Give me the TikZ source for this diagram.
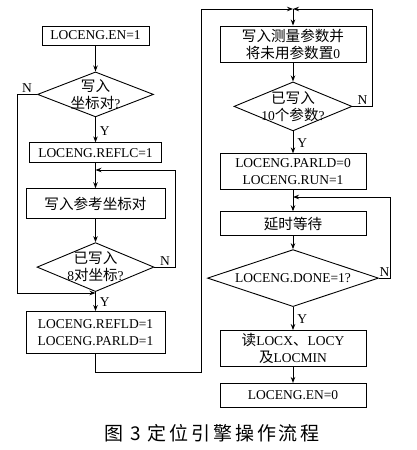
\documentclass[tikz,border=0pt]{standalone}
\usepackage{fontspec}
\setmainfont{Liberation Serif}
\newfontfamily\zhfont[Scale=1.08]{Noto Sans CJK SC}
\newfontfamily\capfont[LetterSpace=15]{Noto Sans CJK SC}
\newcommand{\zh}[1]{{\zhfont #1}}
\usetikzlibrary{positioning,shapes.geometric,arrows.meta}

\tikzset{
	box/.style={draw, rectangle, inner sep=1pt, align=center},
	test/.style={draw, diamond, aspect=2.4, inner sep=-6pt, align=center},
	flow/.style={-{Stealth[length=6pt,width=4.5pt]}},
	lbl/.style={inner sep=1pt},
	yes/.style={lbl, right, xshift=3pt, yshift=-1pt},
}

\begin{document}
\begin{tikzpicture}[x=1pt, y=-1pt, line width=0.9pt, font=\fontsize{13.5}{17}\selectfont]
	\useasboundingbox (0,0) rectangle (416,450);

	% left column
	\node[box, minimum width=107pt, minimum height=19pt] (en1) at (95.5,35.5) {LOCENG.EN=1};
	\node[test, minimum width=116pt, minimum height=45pt, below=26pt of en1] (askpair) {\zh{写入}\\\zh{坐标对}?};
	\node[box, minimum width=132pt, minimum height=20pt, below=25pt of askpair] (reflc) {LOCENG.REFLC=1};
	\node[box, minimum width=139pt, minimum height=30pt, below=25pt of reflc] (wref) {\zh{写入参考坐标对}};
	\node[test, minimum width=117pt, minimum height=49pt, below=23pt of wref] (ask8) {\zh{已写入}\\8\zh{对坐标}?};
	\node[box, minimum width=139pt, minimum height=42pt, below=19pt of ask8] (refld) {LOCENG.REFLD=1\\LOCENG.PARLD=1};

	% right column
	\node[box, minimum width=146pt, minimum height=36pt] (wpar) at (293,44) {\zh{写入测量参数并}\\\zh{将未用参数置}0};
	\node[test, minimum width=118pt, minimum height=49pt, below=19pt of wpar] (ask10) {\zh{已写入}\\10\zh{个参数}?};
	\node[box, minimum width=146pt, minimum height=36pt, below=22pt of ask10] (run) {LOCENG.PARLD=0\\LOCENG.RUN=1};
	\node[box, minimum width=146pt, minimum height=24pt, below=21pt of run] (wait) {\zh{延时等待}};
	\node[test, minimum width=171pt, minimum height=57pt, below=13pt of wait] (done) {LOCENG.DONE=1?};
	\node[box, minimum width=146pt, minimum height=36pt, below=23pt of done] (readxy) {\zh{读}LOCX\zh{、}LOCY\\\zh{及}LOCMIN};
	\node[box, minimum width=146pt, minimum height=24pt, below=16pt of readxy] (en0) {LOCENG.EN=0};

	% junctions
	\coordinate (loopA) at (95.5,170);
	\coordinate (loopB) at (95.5,293);
	\coordinate (railL) at (201,9);
	\coordinate (topJ) at (293,9);
	\coordinate (loopC) at (293,197);

	\draw[flow] (en1) -- (askpair);
	\draw[flow] (askpair) -- node[yes]{Y} (reflc);
	\draw[flow] (askpair.west) -- node[lbl, above]{N} ++(-20,0) |- (loopB);
	\draw[flow] (reflc) -- (wref);
	\draw[flow] (wref) -- (ask8);
	\draw[flow] (ask8.east) -- node[lbl, above]{N} ++(21,0) |- (loopA);
	\draw[flow] (ask8) -- node[yes]{Y} (refld);
	\draw[flow] (refld.south) -- ++(0,18) -| (railL) -- (topJ);

	\draw[flow] (topJ) -- (wpar);
	\draw[flow] (wpar) -- (ask10);
	\draw[flow] (ask10.east) -- node[lbl, above]{N} ++(20,0) |- (topJ);
	\draw[flow] (ask10) -- node[yes]{Y} (run);
	\draw[flow] (run) -- (wait);
	\draw[flow] (wait) -- (done);
	\draw[flow] (done.east) -- node[lbl, above]{N} ++(11,0) |- (loopC);
	\draw[flow] (done) -- node[yes]{Y} (readxy);
	\draw[flow] (readxy) -- (en0);

	\node[font=\capfont\fontsize{19}{22}\selectfont] (caption) at (212,433) {图 3 定位引擎操作流程};
\end{tikzpicture}
\end{document}
